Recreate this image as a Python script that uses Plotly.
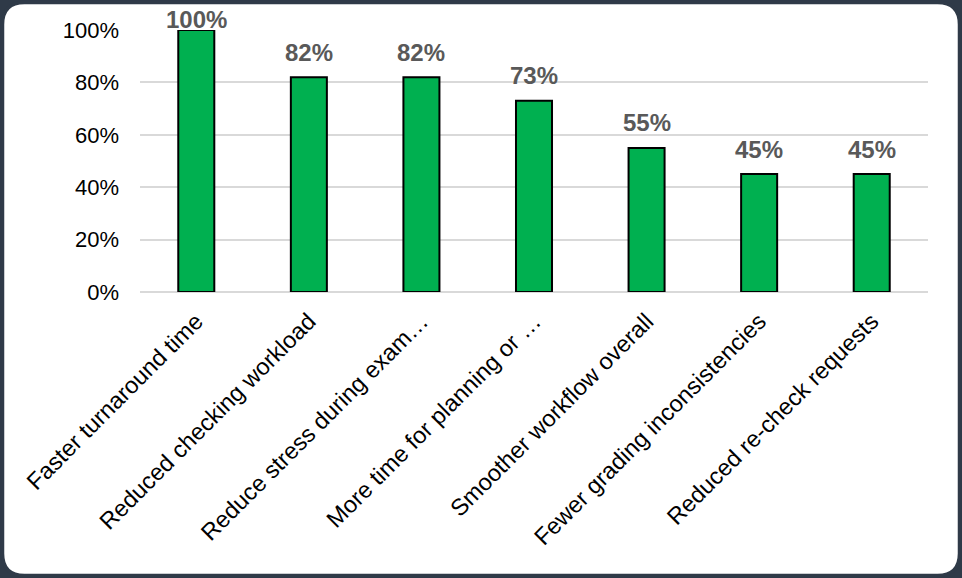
import plotly.graph_objects as go

# Dados do gráfico
categories = [
    "Faster turnaround time",
    "Reduced checking workload",
    "Reduce stress during exam…",
    "More time for planning or …",
    "Smoother workflow overall",
    "Fewer grading inconsistencies",
    "Reduced re-check requests",
]
values = [1.00, 0.82, 0.82, 0.73, 0.55, 0.45, 0.45]
value_labels = ["100%", "82%", "82%", "73%", "55%", "45%", "45%"]
y_ticks = [0, 0.2, 0.4, 0.6, 0.8, 1.0]
y_tick_labels = ["0%", "20%", "40%", "60%", "80%", "100%"]

W, H = 962, 578
M = dict(l=140, r=34, t=30, b=286)
FRAME = "#2f3a48"
PH = H - M["t"] - M["b"]


def px_to_paper(x, y):
    # converte pixel da página para coordenadas "paper" do plotly
    pw = W - M["l"] - M["r"]
    return (x - M["l"]) / pw, (H - M["b"] - y) / PH


def rounded_rect(x0, y0, x1, y1, r):
    pts = [
        ("M", x0 + r, y0), ("L", x1 - r, y0), ("Q", x1, y0, x1, y0 + r),
        ("L", x1, y1 - r), ("Q", x1, y1, x1 - r, y1),
        ("L", x0 + r, y1), ("Q", x0, y1, x0, y1 - r),
        ("L", x0, y0 + r), ("Q", x0, y0, x0 + r, y0),
    ]
    parts = []
    for p in pts:
        cmd, coords = p[0], p[1:]
        conv = []
        for i in range(0, len(coords), 2):
            a, b = px_to_paper(coords[i], coords[i + 1])
            conv.append(f"{a:.5f},{b:.5f}")
        parts.append(cmd + " ".join(conv))
    return " ".join(parts) + " Z"


fig = go.Figure(
    go.Bar(
        x=categories,
        y=values,
        marker=dict(color="#00B050", line=dict(color="#000000", width=2)),
        hoverinfo="skip",
    )
)

# rótulos de valor acima das barras (como no Excel, presos ao topo da área)
for cat, v, lab in zip(categories, values, value_labels):
    top_px = M["t"] + (1 - v) * PH
    shift = top_px - max(top_px - 25, 19)
    fig.add_annotation(
        x=cat, y=v, text=f"<b>{lab}</b>", showarrow=False,
        yanchor="middle", yshift=shift,
        font=dict(size=24, color="#595959", family="Liberation Sans"),
    )

# moldura arredondada (fundo branco + contorno escuro)
fig.add_shape(
    type="path",
    xref="paper", yref="paper",
    path=rounded_rect(2.5, 2.5, 959.5, 575.5, 22),
    fillcolor="white",
    line=dict(color=FRAME, width=3.5),
    layer="below",
)

fig.update_layout(
    width=W,
    height=H,
    margin=M,
    paper_bgcolor=FRAME,
    plot_bgcolor="rgba(0,0,0,0)",
    bargap=0.68,
    showlegend=False,
    font=dict(family="Liberation Sans", size=22, color="#000000"),
    xaxis=dict(
        tickangle=-45,
        tickfont=dict(size=23.5, color="#000000"),
        showgrid=False,
        showline=False,
        ticks="",
        ticklabelstandoff=10,
    ),
    yaxis=dict(
        range=[0, 1.0],
        tickvals=y_ticks,
        ticktext=y_tick_labels,
        tickfont=dict(size=22, color="#000000"),
        gridcolor="#d9d9d9",
        gridwidth=1.5,
        zeroline=True,
        zerolinecolor="#d9d9d9",
        zerolinewidth=1.5,
        showline=False,
        ticks="",
        ticklabelstandoff=20,
    ),
)

# tira a margem padrão do body para a figura ocupar a janela toda
fig.write_html(
    "out.html",
    config={"displayModeBar": False},
    post_script="document.body.style.margin='0';document.body.style.background='" + FRAME + "';",
)
